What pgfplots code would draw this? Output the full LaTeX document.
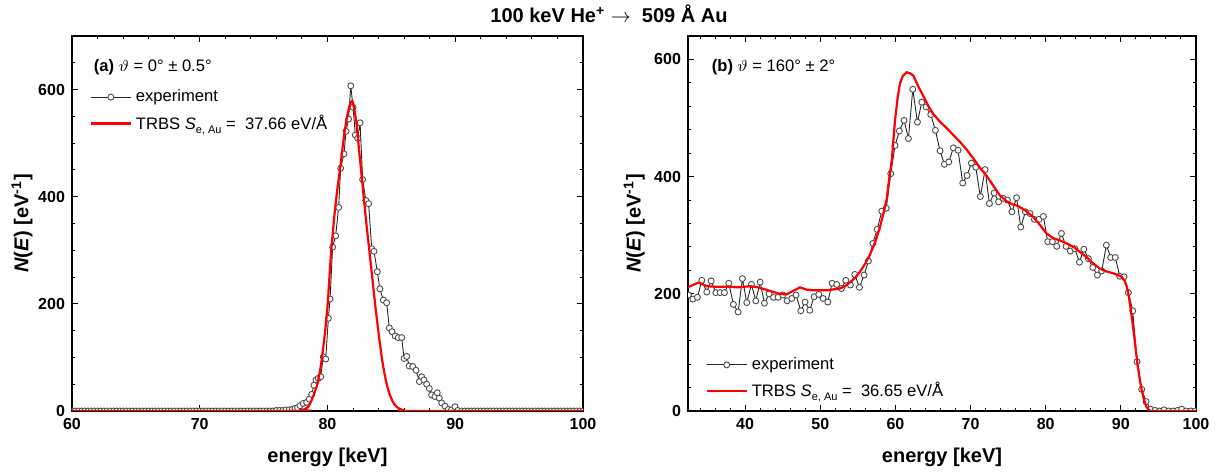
\documentclass[border=0pt]{standalone}
\usepackage{pgfplots}
\pgfplotsset{compat=1.18}
\usepackage{fontspec}
\setmainfont{Liberation Sans}

\pgfplotsset{
  panel/.style={
    scale only axis, width=255.5pt, height=187.5pt,
    clip marker paths=true,
    axis line style={black, line width=0.6pt},
    major tick length=3pt, minor tick length=1.6pt,
    every tick/.style={black, line width=0.5pt},
    tick label style={font=\bfseries\fontsize{8}{9}\selectfont},
    /pgf/number format/assume math mode=true,
    xlabel={energy [keV]},
    ylabel={\textit{N}(\textit{E}) [eV\textsuperscript{-1}]},
    label style={font=\bfseries\fontsize{10}{12}\selectfont},
    xlabel style={at={(axis description cs:0.5,-0.125)}, anchor=center},
    legend style={draw=none, fill=none, font=\fontsize{8.3}{10}\selectfont,
      row sep=1pt, inner sep=1pt},
    legend cell align=left,
    legend image code/.code={\draw[mark repeat=2,mark phase=2,#1]
      plot coordinates {(0pt,0pt) (10pt,0pt) (20pt,0pt)};},
    ymin=0, ytick={0,200,400,600},
  },
  expt/.style={color=black!85, line width=0.45pt, mark=*, mark size=1.5pt,
    mark options={draw=black!70, fill=white, line width=0.45pt}},
  trbs/.style={color=red, line width=1.1pt, no markers},
}
\newcommand{\sub}[1]{\raisebox{-0.45ex}{\fontsize{5.5}{6}\selectfont #1}}

\begin{document}
\begin{tikzpicture}
\useasboundingbox (0,0) rectangle (608.5pt,237pt);
\node[font=\bfseries\fontsize{10}{12}\selectfont] at (304.5pt,230pt)
  {100 keV He\textsuperscript{+} $\rightarrow$\ \ 509 Å Au};

% (a) 0 degrees
\begin{axis}[panel, at={(36pt,31.5pt)}, anchor=south west,
  xmin=60, xmax=100, ymax=700,
  xtick={60,70,80,90,100},
  minor xtick={60,62,...,100}, minor ytick={0,50,...,700},
  ylabel style={at={(axis description cs:-0.098,0.5)}, anchor=center},
  legend style={at={(axis description cs:0.03,0.874)}, anchor=north west}]
\addplot[expt] coordinates {
  (60,0)(60.25,0)(60.5,0)(60.75,0)(61,0)(61.25,0)(61.5,0)(61.75,0)
  (62,0)(62.25,0)(62.5,0)(62.75,0)(63,0)(63.25,0)(63.5,0)(63.75,0)
  (64,0)(64.25,0)(64.5,0)(64.75,0)(65,0)(65.25,0)(65.5,0)(65.75,0)
  (66,0)(66.25,0)(66.5,0)(66.75,0)(67,0)(67.25,0)(67.5,0)(67.75,0)
  (68,0)(68.25,0)(68.5,0)(68.75,0)(69,0)(69.25,0)(69.5,0)(69.75,0)
  (70,0)(70.25,0)(70.5,0)(70.75,0)(71,0)(71.25,0)(71.5,0)(71.75,0)
  (72,0)(72.25,0)(72.5,0)(72.75,0)(73,0)(73.25,0)(73.5,0)(73.75,0)
  (74,0)(74.25,0)(74.5,0)(74.75,0)(75,0)(75.25,0)(75.5,0)(75.75,0)
  (76,1)(76.25,1)(76.5,1)(76.75,2)(77,2)(77.25,3)
  (77.46,5)(77.65,6)(77.85,10)(78.1,14)(78.37,16)(78.57,22)(78.76,31)
  (78.94,48)(79.1,58)(79.28,61)(79.47,64)(79.67,101)(79.86,97)(80.07,173)
  (80.2,209)(80.4,306)(80.64,327)(80.87,380)(81.03,453)(81.29,480)
  (81.45,522)(81.65,545)(81.82,607)(82.0,567)(82.18,515)(82.36,509)
  (82.55,538)(82.75,432)(83.0,393)(83.22,387)(83.46,303)(83.64,298)
  (83.9,260)(84.1,228)(84.37,207)(84.63,202)(84.84,155)(85.05,148)
  (85.3,140)(85.54,137)(85.81,137)(85.99,98)(86.2,102)(86.4,84)
  (86.67,83)(86.93,76)(87.19,55)(87.37,64)(87.55,58)(87.76,50)
  (87.97,42)(88.15,30)(88.41,27)(88.59,34)(88.75,24)(88.94,15)
  (89.2,9)(89.46,3)(89.7,2)(89.98,8)(90.2,1)
  (90.5,0)(90.75,0)(91,0)(91.25,0)(91.5,0)(91.75,0)(92,0)(92.25,0)
  (92.5,0)(92.75,0)(93,0)(93.25,0)(93.5,0)(93.75,0)(94,0)(94.25,0)
  (94.5,0)(94.75,0)(95,0)(95.25,0)(95.5,0)(95.75,0)(96,0)(96.25,0)
  (96.5,0)(96.75,0)(97,0)(97.25,0)(97.5,0)(97.75,0)(98,0)(98.25,0)
  (98.5,0)(98.75,0)(99,0)(99.25,0)(99.5,0)(99.75,0)(100,0)
};
\addlegendentry{experiment}
\addplot[trbs, smooth] coordinates {
  (60,0)(77.5,0)(78,2)(78.5,8)(79,35)(79.25,55)(79.5,88)(79.75,135)
  (80,195)(80.25,285)(80.5,355)(80.75,410)(81,455)(81.25,505)(81.5,545)
  (81.75,572)(81.9,578)(82,575)(82.25,540)(82.5,480)(82.75,420)(83,360)
  (83.25,305)(83.5,250)(83.75,195)(84,145)(84.25,100)(84.5,65)(84.75,40)
  (85,23)(85.25,12)(85.5,6)(85.75,3)(86,1)(86.5,0)(100,0)
};
\addlegendentry{TRBS \textit{S}\sub{e, Au}~=~ 37.66 eV/Å}
\node[anchor=west, font=\fontsize{8.3}{10}\selectfont]
  at (axis description cs:0.029,0.917) {\textbf{(a)} $\vartheta$ = 0° ± 0.5°};
\end{axis}

% (b) 160 degrees
\begin{axis}[panel, at={(344pt,31.5pt)}, anchor=south west, width=254pt,
  xmin=32.4, xmax=100, ymax=640,
  xtick={40,50,60,70,80,90,100},
  minor xtick={32,34,...,100}, minor ytick={0,40,...,640},
  ylabel style={at={(axis description cs:-0.106,0.5)}, anchor=center},
  legend style={at={(axis description cs:0.03,0.16)}, anchor=north west}]
\addplot[expt] coordinates {
  (32.46,198)(33.04,191)(33.65,194)(34.24,223)(34.9,203)(35.48,222)
  (36.1,202)(36.67,202)(37.25,202)(37.83,218)(38.44,182)(39.07,169)
  (39.64,226)(40.22,185)(40.84,216)(41.42,188)(42,220)(42.57,184)
  (43.19,200)(43.77,194)(44.39,194)(45.01,198)(45.59,188)(46.21,192)
  (46.78,198)(47.41,171)(47.98,186)(48.6,172)(49.18,195)(49.8,199)
  (50.38,192)(51,186)(51.57,218)(52.19,216)(52.81,209)(53.4,223)
  (54.01,215)(54.59,233)(55.21,211)(55.83,232)(56.41,256)(56.99,286)
  (57.57,310)(58.19,341)(58.78,346)(59.38,405)(59.95,453)(60.53,478)
  (61.15,496)(61.73,465)(62.31,549)(62.93,493)(63.51,527)(64.08,519)
  (64.7,506)(65.32,479)(65.94,444)(66.52,421)(67.1,425)(67.71,449)
  (68.33,445)(68.96,389)(69.53,402)(70.11,423)(70.69,416)(71.3,366)
  (71.93,412)(72.51,354)(73.13,372)(73.73,357)(74.33,363)(74.9,360)
  (75.5,340)(76.12,364)(76.68,314)(77.3,340)(77.91,337)(78.49,327)
  (79.11,327)(79.69,332)(80.27,289)(80.89,289)(81.47,281)(82.09,303)
  (82.71,281)(83.28,273)(83.87,277)(84.49,254)(85.07,276)(85.68,260)
  (86.26,245)(86.87,232)(87.45,239)(88.07,283)(88.65,262)(89.26,262)
  (89.85,230)(90.42,229)(91,202)(91.58,171)(92.15,84)(92.77,37)
  (93.35,16)(93.97,3)(94.55,1)(95.15,0)(95.75,2)(96.35,0)(96.95,0)
  (97.55,1)(98.1,3)(98.7,0)(99.3,0)(99.9,0)
};
\addlegendentry{experiment}
\addplot[trbs] coordinates {
  (32.4,211)(33.2,216)(33.8,219)(34.9,213)(36,212)(37.8,212)(39,211)
  (40.7,213)(41.7,211)(42.8,207)(43.8,203)(44.6,200)(45.5,199)(46.4,205)
  (47.3,211)(48.2,207)(49.1,206)(50.9,206)(52.6,209)(53.3,213)(54,220)
  (54.7,228)(55.3,238)(56,252)(56.65,268)(57.3,288)(57.96,315)(58.4,337)
  (58.85,362)(59.05,385)(59.52,428)(59.75,465)(59.95,496)(60.3,535)
  (60.62,560)(61,572)(61.5,578)(62,576)(62.4,572)(63.08,553)(63.7,538)
  (64.4,520)(65.03,507)(65.9,494)(66.8,483)(67.7,471)(68.6,459)(69.5,446)
  (70.37,431)(71.2,416)(72.15,401)(73.1,383)(73.9,368)(74.8,358)(75.5,353)
  (76.3,350)(77.3,342)(78.35,331)(79.2,318)(80.1,303)(81,295)(81.9,291)
  (82.8,286)(83.7,280)(84.5,272)(85.4,263)(86.3,252)(87.2,243)(88.1,238)
  (89,235)(89.6,232)(90.1,229)(90.5,222)(90.8,212)(91,200)(91.2,184)
  (91.45,160)(91.7,136)(91.95,108)(92.2,81)(92.5,55)(92.77,36)(93.1,18)
  (93.4,7)(93.7,2)(94,0)(100,0)
};
\addlegendentry{TRBS \textit{S}\sub{e, Au}~=~ 36.65 eV/Å}
\node[anchor=west, font=\fontsize{8.3}{10}\selectfont]
  at (axis description cs:0.033,0.917) {\textbf{(b)} $\vartheta$ = 160° ± 2°};
\end{axis}
\end{tikzpicture}
\end{document}
